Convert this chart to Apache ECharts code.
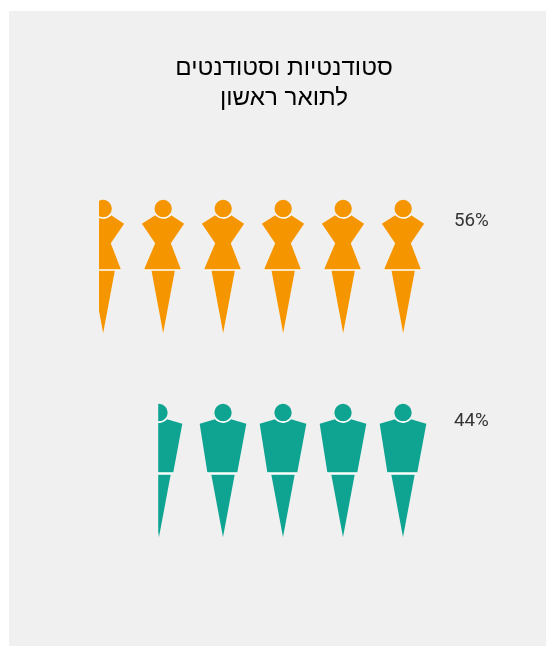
<!DOCTYPE html>
<html><head><meta charset="utf-8">
<style>html,body{margin:0;padding:0;background:#fff}#c{width:546px;height:646px}</style>
<script src="https://cdn.jsdelivr.net/npm/echarts@6/dist/echarts.min.js"></script>
</head><body><div id="c"></div>
<script>
const titleLines = ['סטודנטיות וסטודנטים', 'לתואר ראשון'];
const categories = ['נשים', 'גברים'];
const percentLabels = ['56%', '44%'];
const wholeRowCounts = [5.565, 4];
const repeatCounts = [6, 4];
const partialValue = 4.58;
const partialEnd = 4.956;
const colors = ['#f59500', '#0fa391'];
const womanPath = 'path://M218 30A26 26 0 1 1 217.9 30ZM194 76A32 32 0 0 0 242 76L282 102L242 160L275 238L165 238L195 160L155 102ZM183 243L253 243L218 430Z';
const manPath = 'path://M218 27A26 26 0 1 1 217.9 27ZM194 73.4A32 32 0 0 0 242 73.4L288 87L265 232L175 232L148 87ZM183 240L253 240L218 427Z';
const womanBack = 'path://M194 76L218 30L242 76L282 102L242 160L275 238L275 242L253 242L218 430L183 242L165 242L165 238L195 160L155 102Z';
const manBack = 'path://M194 73.4L218 27L242 73.4L288 87L265 232L265 236L253 236L218 427L183 236L175 236L175 232L148 87Z';
const fronts = [womanPath, manPath];
const backs = [womanBack, manBack];
const sizes = [[42.3, 133.3], [46.7, 133.3]];
const common = {
  type: 'pictorialBar',
  symbolClip: true,
  silent: true,
  barGap: '-100%',
  barCategoryGap: '0%'
};
function rowSeries(z, paths, color) {
  return Object.assign({}, common, {
    z: z,
    symbolMargin: '1!',
    data: wholeRowCounts.map((v, i) => ({
      value: v, symbol: paths[i], symbolSize: sizes[i],
      symbolRepeat: repeatCounts[i], symbolBoundingData: repeatCounts[i],
      itemStyle: {color: color === null ? colors[i] : color}
    }))
  });
}
function partialSeries(z, path, color) {
  return Object.assign({}, common, {
    z: z,
    symbolPosition: 'end',
    symbolBoundingData: partialEnd,
    data: [null, {value: partialValue, symbol: path, symbolSize: sizes[1], itemStyle: {color: color}}]
  });
}
const chart = echarts.init(document.getElementById('c'), null, {renderer: 'canvas'});
chart.setOption({
  animation: false,
  graphic: [
    {type: 'rect', z: -10, shape: {x: 9, y: 11, width: 537, height: 635}, style: {fill: '#f0f0f0'}},
    {type: 'text', x: 284, y: 68, style: {text: titleLines[0], font: '24.2px "Liberation Sans"', fill: '#000', align: 'center', verticalAlign: 'middle'}},
    {type: 'text', x: 284, y: 98, style: {text: titleLines[1], font: '24.2px "Liberation Sans"', fill: '#000', align: 'center', verticalAlign: 'middle'}},
    {type: 'text', x: 454, y: 221, style: {text: percentLabels[0], font: '400 18.8px Roboto', fill: '#333', align: 'left', verticalAlign: 'middle'}},
    {type: 'text', x: 454, y: 421, style: {text: percentLabels[1], font: '400 18.8px Roboto', fill: '#333', align: 'left', verticalAlign: 'middle'}}
  ],
  grid: {left: 73, right: 113, top: 164.5, bottom: 73.5},
  xAxis: {type: 'value', inverse: true, min: 0, max: 6, show: false},
  yAxis: {type: 'category', inverse: true, data: categories, show: false},
  series: [
    rowSeries(2, backs, '#ffffff'),
    partialSeries(2, backs[1], '#ffffff'),
    rowSeries(3, fronts, null),
    partialSeries(3, fronts[1], colors[1])
  ]
});
</script></body></html>
